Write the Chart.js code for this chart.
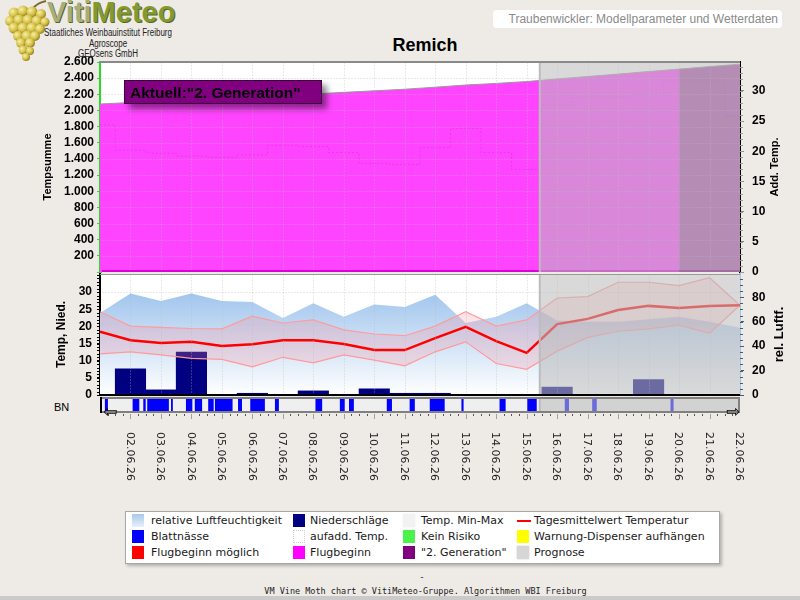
<!DOCTYPE html>
<html>
<head>
<meta charset="utf-8">
<title>Remich</title>
<script src="https://cdn.jsdelivr.net/npm/chart.js@4.4.1/dist/chart.umd.min.js"></script>
<style>
  body { margin:0; width:800px; height:600px; background:#eeebe7; position:relative; overflow:hidden; font-family:"Liberation Sans", Arial, sans-serif; }
  canvas { position:absolute; left:0; }
  .abs { position:absolute; white-space:nowrap; }
  #legend { position:absolute; left:125px; top:511px; width:593px; height:51px; background:#fff; border:1px solid #a8a8a8; box-shadow:2px 2px 3px rgba(0,0,0,.25); font:11px "DejaVu Sans", sans-serif; color:#1a1a1a; }
  #legend .it { position:absolute; line-height:13px; white-space:nowrap; }
  #legend .sw { position:absolute; width:12px; height:13px; }
</style>
</head>
<body>

<svg class="abs" style="left:2px;top:0" width="52" height="66">
  <defs>
    <radialGradient id="berry" cx="35%" cy="35%" r="70%">
      <stop offset="0" stop-color="#f7f0a0"/>
      <stop offset="0.6" stop-color="#d4bf48"/>
      <stop offset="1" stop-color="#8f7a1c"/>
    </radialGradient>
  </defs>
  <path d="M30 10 Q34 3 44 1" stroke="#7a6a30" stroke-width="2" fill="none"/>
  <g fill="url(#berry)">
    <circle cx="12" cy="13" r="5.5"/><circle cx="21" cy="11" r="5.5"/><circle cx="30" cy="12" r="5.5"/><circle cx="39" cy="14" r="5"/>
    <circle cx="8" cy="21" r="5"/><circle cx="17" cy="20" r="5.5"/><circle cx="26" cy="20" r="5.5"/><circle cx="35" cy="21" r="5.5"/><circle cx="43" cy="22" r="4.5"/>
    <circle cx="12" cy="28" r="5.5"/><circle cx="21" cy="28" r="5.5"/><circle cx="30" cy="28" r="5.5"/><circle cx="38" cy="29" r="5"/>
    <circle cx="16" cy="36" r="5"/><circle cx="25" cy="36" r="5.5"/><circle cx="33" cy="36" r="5"/>
    <circle cx="19" cy="43" r="5"/><circle cx="28" cy="43" r="5"/>
    <circle cx="21" cy="50" r="4.5"/><circle cx="28" cy="51" r="4"/>
    <circle cx="24" cy="57" r="4"/>
  </g>
</svg>
<div class="abs" style="left:47px;top:-2px;font:bold 29px/29px 'Liberation Sans',Arial;text-shadow:1px 1px 0 #59661f">
  <span style="color:#a7ae7c">Viti</span><span style="color:#84992f">Meteo</span>
</div>
<div class="abs" style="left:18px;top:28px;width:180px;text-align:center;font:10px/10.5px 'Liberation Sans',Arial;color:#222;transform:scaleX(0.8)">
  Staatliches Weinbauinstitut Freiburg<br>Agroscope<br>GEOsens GmbH
</div>
<div class="abs" style="left:493px;top:10px;width:285px;height:18px;padding-right:4px;background:#fff;border-radius:4px;text-align:right;font:12px/18px 'Liberation Sans',Arial;color:#8a8a8a">Traubenwickler: Modellparameter und Wetterdaten</div>
<div class="abs" style="left:325px;top:36px;width:200px;text-align:center;font:bold 18px/18px 'Liberation Sans',Arial;color:#000">Remich</div>
<div class="abs" style="left:54px;top:401px;font:11px/12px 'Liberation Sans',Arial;color:#000">BN</div>

<canvas id="cTop" width="800" height="242" style="top:46px"></canvas>
<canvas id="cMid" width="800" height="153" style="top:258px"></canvas>
<canvas id="cBn" width="800" height="103" style="top:397px"></canvas>

<div id="legend">
  <span class="sw" style="left:6px;top:2px;background:linear-gradient(#a8c8ee,#e8f0fa)"></span><span class="it" style="left:25px;top:2px">relative Luftfeuchtigkeit</span>
  <span class="sw" style="left:167px;top:2px;background:#000080"></span><span class="it" style="left:184px;top:2px">Niederschläge</span>
  <span class="sw" style="left:277px;top:2px;background:#f2f2f2;box-shadow:0 0 1px #ddd"></span><span class="it" style="left:295px;top:2px">Temp. Min-Max</span>
  <span class="sw" style="left:391px;top:8px;width:14px;height:2px;background:#ff0000"></span><span class="it" style="left:408px;top:2px">Tagesmittelwert Temperatur</span>

  <span class="sw" style="left:6px;top:18px;background:#0000ff"></span><span class="it" style="left:25px;top:18px">Blattnässe</span>
  <span class="sw" style="left:167px;top:18px;width:10px;height:11px;background:#fff;border:1px dotted #ccc"></span><span class="it" style="left:184px;top:18px">aufadd. Temp.</span>
  <span class="sw" style="left:277px;top:18px;background:#4cf24c"></span><span class="it" style="left:295px;top:18px">Kein Risiko</span>
  <span class="sw" style="left:391px;top:18px;background:#ffff00"></span><span class="it" style="left:408px;top:18px">Warnung-Dispenser aufhängen</span>

  <span class="sw" style="left:6px;top:34px;background:#ff0000"></span><span class="it" style="left:25px;top:34px">Flugbeginn möglich</span>
  <span class="sw" style="left:167px;top:34px;background:#ff00ff"></span><span class="it" style="left:184px;top:34px">Flugbeginn</span>
  <span class="sw" style="left:277px;top:34px;background:#800080"></span><span class="it" style="left:295px;top:34px">"2. Generation"</span>
  <span class="sw" style="left:391px;top:34px;background:#d6d6d6;box-shadow:0 0 2px #ccc"></span><span class="it" style="left:408px;top:34px">Prognose</span>
</div>

<div class="abs" style="left:0;top:572px;width:844px;text-align:center;font:9px/10px 'DejaVu Sans Mono',monospace;color:#222">-</div>
<div class="abs" style="left:0;top:586px;width:851px;text-align:center;font:8.5px/10px 'DejaVu Sans Mono',monospace;color:#222">VM Vine Moth chart © VitiMeteo-Gruppe. Algorithmen WBI Freiburg</div>
<div class="abs" style="left:0;top:596px;width:800px;height:4px;background:#cacaca"></div>

<script>
'use strict';

// --- data (day index 0 = 01.06.26) ---
const days = ['01.06.26','02.06.26','03.06.26','04.06.26','05.06.26','06.06.26','07.06.26','08.06.26',
  '09.06.26','10.06.26','11.06.26','12.06.26','13.06.26','14.06.26','15.06.26','16.06.26',
  '17.06.26','18.06.26','19.06.26','20.06.26','21.06.26','22.06.26'];
const tempSum  = [2080, 2098, 2115, 2132, 2148, 2165, 2185, 2205, 2224, 2243, 2263,
                  2288, 2315, 2335, 2358, 2390, 2420, 2450, 2482, 2512, 2543, 2573];
const addTemp  = [24.4, 20.2, 19.7, 19.2, 19.0, 19.4, 21.0, 20.8, 19.8, 18.0, 17.8,
                  20.6, 23.8, 19.8, 17.0, 27.7, 29.0, 29.0, 29.5, 31.8, 31.8, 25.9];
const humidity = [67, 83, 77, 83, 77, 76, 63, 75, 64, 74, 72, 82, 59, 64, 75, 61, 60, 60, 62, 64, 60, 55];
const tempMean = [18.5, 16.0, 15.2, 15.5, 14.3, 14.8, 16.0, 16.0, 14.9, 13.1, 13.1,
                  16.6, 19.9, 15.7, 12.3, 20.7, 22.2, 24.8, 26.0, 25.4, 26.0, 26.2];
const tempMax  = [24.3, 20.1, 19.7, 19.4, 19.3, 23.0, 21.0, 21.9, 19.0, 17.8, 17.3,
                  20.1, 24.3, 20.1, 21.9, 28.3, 28.7, 32.9, 32.9, 31.9, 34.2, 26.2];
const tempMin  = [12.0, 12.6, 11.7, 10.7, 10.4, 8.2, 11.0, 9.4, 11.7, 10.2, 8.5,
                  12.6, 15.5, 9.2, 7.5, 12.8, 16.8, 18.6, 19.3, 20.4, 18.0, 26.2];
const rain     = [0, 7.6, 1.5, 12.5, 0, 0.5, 0, 1.2, 0, 1.8, 0.5, 0.5, 0, 0, 0, 2.3, 0, 0, 4.5, 0, 0, 0];
// leaf wetness periods (start / end, in days)
const wetStart = [0.16, 1.07, 1.42, 1.55, 2.33, 2.82, 3.11, 3.55, 3.77, 4.53, 4.93, 5.74,
                  7.07, 7.87, 8.17, 9.41, 10.16, 10.82, 11.86, 13.11, 14.02, 15.25, 16.15, 18.72];
const wetEnd   = [0.26, 1.29, 1.50, 2.26, 2.39, 3.03, 3.35, 3.73, 4.35, 4.66, 5.41, 5.87,
                  7.29, 8.03, 8.33, 9.58, 10.33, 11.31, 11.93, 13.31, 14.33, 15.39, 16.30, 18.82];
const forecastFrom = 14.43;  // start of "Prognose"
const gen2From = 19;         // start of "2. Generation"

Chart.defaults.font.family = '"Liberation Sans", Arial, sans-serif';
Chart.defaults.color = '#000';

const pts = arr => arr.map((v, i) => ({ x: i, y: v }));
const gridColor = 'rgba(185,185,185,0.6)';
const thousands = v => String(v).replace(/\B(?=(\d{3})+(?!\d))/g, '.');

function dotted(ctx, x1, y1, x2, y2) {
  ctx.save();
  ctx.strokeStyle = gridColor;
  ctx.lineWidth = 1;
  ctx.setLineDash([1, 2]);
  ctx.beginPath();
  ctx.moveTo(Math.round(x1) + 0.5, Math.round(y1) + 0.5);
  ctx.lineTo(Math.round(x2) + 0.5, Math.round(y2) + 0.5);
  ctx.stroke();
  ctx.restore();
}

function vText(ctx, text, x, y, font) {
  ctx.save();
  ctx.translate(x, y);
  ctx.rotate(-Math.PI / 2);
  ctx.font = font;
  ctx.fillStyle = '#000';
  ctx.textAlign = 'center';
  ctx.textBaseline = 'middle';
  ctx.fillText(text, 0, 0);
  ctx.restore();
}

function minorTicks(ctx, scale, step, len, color, side) {
  const x0 = side === 'left' ? scale.right : scale.left;
  ctx.save();
  ctx.strokeStyle = color;
  ctx.lineWidth = 1;
  ctx.beginPath();
  for (let v = 0; v <= scale.max + 1e-6; v += step) {
    const y = Math.round(scale.getPixelForValue(v)) + 0.5;
    ctx.moveTo(side === 'left' ? x0 - len : x0, y);
    ctx.lineTo(side === 'left' ? x0 : x0 + len, y);
  }
  ctx.stroke();
  ctx.restore();
}

function shadeForecast(chart) {
  const { ctx, chartArea: a, scales: { x } } = chart;
  const px = x.getPixelForValue(forecastFrom);
  ctx.save();
  ctx.fillStyle = 'rgba(188,188,188,0.57)';
  ctx.fillRect(px, a.top, a.right - px, a.bottom - a.top);
  ctx.fillStyle = '#bcbcbc';
  ctx.fillRect(px - 1, a.top, 2, a.bottom - a.top);
  ctx.restore();
}

function areaBg(color) {
  return {
    id: 'areaBg',
    beforeDatasetsDraw(chart) {
      const { ctx, chartArea: a } = chart;
      ctx.save();
      ctx.fillStyle = color;
      ctx.fillRect(a.left + 1, a.top, a.right - a.left - 1, a.bottom - a.top);
      ctx.restore();
    },
  };
}

const baseOpts = (padding) => ({
  responsive: false,
  animation: false,
  layout: { padding },
  plugins: { legend: { display: false }, tooltip: { enabled: false } },
});

const xDays = { type: 'linear', min: 0, max: days.length - 1, display: false };
const tickFont = { size: 12, weight: 'bold' };

// ---------- top panel: Tempsumme ----------
const topPanel = {
  id: 'topPanel',
  afterDatasetsDraw(chart) {
    const { ctx, chartArea: a, scales: { x, yL } } = chart;
    for (let i = 1; i < days.length - 1; i++) {
      const px = x.getPixelForValue(i);
      dotted(ctx, px, a.top, px, a.bottom);
    }
    for (let v = 200; v < 2600; v += 200) {
      const py = yL.getPixelForValue(v);
      dotted(ctx, a.left + 2, py, a.right, py);
    }
    const g = x.getPixelForValue(gen2From);
    ctx.fillStyle = '#dd00dd';
    ctx.fillRect(a.left + 2, a.bottom - 2, g - a.left - 2, 2);
    ctx.fillStyle = '#800080';
    ctx.fillRect(g, a.bottom - 2, a.right - g, 2);
    shadeForecast(chart);
    ctx.fillStyle = '#8a8a8a';
    ctx.fillRect(a.left, a.top - 1, a.right - a.left, 2);

    // "Aktuell" box
    const bx = a.left + 24, by = a.top + 18, bw = 198, bh = 24;
    ctx.save();
    ctx.shadowColor = 'rgba(0,0,0,0.45)';
    ctx.shadowBlur = 6;
    ctx.shadowOffsetX = 5;
    ctx.shadowOffsetY = 5;
    ctx.fillStyle = '#800080';
    ctx.fillRect(bx, by, bw, bh);
    ctx.restore();
    ctx.strokeStyle = '#3c003c';
    ctx.lineWidth = 1;
    ctx.strokeRect(bx + 0.5, by + 0.5, bw - 1, bh - 1);
    ctx.font = 'bold 15.5px "Liberation Sans", Arial';
    ctx.fillStyle = '#000';
    ctx.textBaseline = 'alphabetic';
    ctx.fillText('Aktuell:"2. Generation"', bx + 6, by + 18);
  },
  afterDraw(chart) {
    const { ctx, chartArea: a, scales: { yR } } = chart;
    minorTicks(ctx, yR, 1, 3, '#999', 'right');
    const cy = (a.top + a.bottom) / 2;
    vText(ctx, 'Tempsumme', 48, cy, 'bold 11px "Liberation Sans", Arial');
    vText(ctx, 'Add. Temp.', 775, cy, 'bold 11px "Liberation Sans", Arial');
  },
};

new Chart(document.getElementById('cTop'), {
  type: 'line',
  data: {
    datasets: [
      { data: pts(addTemp), yAxisID: 'yR', stepped: 'middle', borderColor: 'rgba(150,20,150,0.2)',
        borderWidth: 1, borderDash: [2, 2], pointRadius: 0, fill: false },
      { data: pts(tempSum).filter(p => p.x <= gen2From), yAxisID: 'yL', borderColor: '#9a9a9a', borderWidth: 1,
        backgroundColor: '#ff44ff', fill: 'origin', pointRadius: 0 },
      { data: pts(tempSum).filter(p => p.x >= gen2From), yAxisID: 'yL', borderColor: '#9a9a9a', borderWidth: 1,
        backgroundColor: '#aa4daa', fill: 'origin', pointRadius: 0 },
    ],
  },
  options: {
    ...baseOpts({ top: 16, bottom: 16, left: 0, right: 0 }),
    scales: {
      x: xDays,
      yL: {
        position: 'left', min: 0, max: 2600,
        ticks: { stepSize: 200, padding: 3, autoSkip: false, font: tickFont, callback: v => (v ? thousands(v) : '') },
        grid: { drawOnChartArea: false, tickLength: 3, tickColor: '#999' },
        border: { color: '#22dd22', width: 3 },
        afterFit: s => { s.width = 100; },
      },
      yR: {
        position: 'right', min: 0, max: 34.8,
        ticks: { stepSize: 5, padding: 8, autoSkip: false, font: tickFont },
        afterBuildTicks: s => { s.ticks = s.ticks.filter(t => t.value <= 30); },
        grid: { drawOnChartArea: false, tickLength: 4, tickColor: '#888' },
        border: { color: '#000', width: 2 },
        afterFit: s => { s.width = 60; },
      },
    },
  },
  plugins: [areaBg('#ffffff'), topPanel],
});

// ---------- middle panel: temperature, rain, humidity ----------
const midPanel = {
  id: 'midPanel',
  afterDatasetsDraw(chart) {
    const { ctx, chartArea: a, scales: { x, yL } } = chart;
    for (let i = 1; i < days.length - 1; i++) {
      const px = x.getPixelForValue(i);
      dotted(ctx, px, a.top, px, a.bottom);
    }
    const p30 = yL.getPixelForValue(30);
    dotted(ctx, a.left + 2, p30, a.right, p30);
    shadeForecast(chart);
    ctx.fillStyle = '#000';
    ctx.fillRect(a.left, a.bottom - 1, a.right - a.left, 2);
    ctx.fillStyle = '#9a9a9a';
    ctx.fillRect(a.left, a.top, a.right - a.left, 1);
  },
  afterDraw(chart) {
    const { ctx, chartArea: a, scales: { yL, yR } } = chart;
    minorTicks(ctx, yL, 1, 3, '#000', 'left');
    minorTicks(ctx, yR, 5, 3, '#556', 'right');
    const cy = (a.top + a.bottom) / 2;
    vText(ctx, 'Temp, Nied.', 62, cy, 'bold 12px "Liberation Sans", Arial');
    vText(ctx, 'rel. Luftf.', 779, cy, 'bold 13px "Liberation Sans", Arial');
  },
};

const humidityFill = (c) => {
  const a = c.chart.chartArea;
  if (!a) return '#b8d4f2';
  const g = c.chart.ctx.createLinearGradient(0, a.top, 0, a.bottom);
  g.addColorStop(0, '#90bbea');
  g.addColorStop(1, '#ffffff');
  return g;
};

new Chart(document.getElementById('cMid'), {
  type: 'line',
  data: {
    datasets: [
      { data: pts(tempMean), yAxisID: 'yL', borderColor: '#ff0000', borderWidth: 2.5, pointRadius: 0, fill: false },
      { data: pts(tempMax), yAxisID: 'yL', borderColor: '#ff9c9c', borderWidth: 1.2, pointRadius: 0,
        fill: '+1', backgroundColor: 'rgba(255,140,150,0.24)' },
      { data: pts(tempMin), yAxisID: 'yL', borderColor: '#ff9c9c', borderWidth: 1.2, pointRadius: 0, fill: false },
      { type: 'bar', data: pts(rain), yAxisID: 'yL', backgroundColor: '#000080',
        barPercentage: 1, categoryPercentage: 1, borderWidth: 0 },
      { data: pts(humidity), yAxisID: 'yR', borderColor: 'transparent', borderWidth: 0, pointRadius: 0,
        fill: 'origin', backgroundColor: humidityFill },
    ],
  },
  options: {
    ...baseOpts({ top: 16, bottom: 16, left: 0, right: 0 }),
    scales: {
      x: { ...xDays, offset: false },
      yL: {
        position: 'left', min: 0, max: 35.3,
        ticks: { stepSize: 5, padding: 5, autoSkip: false, font: tickFont },
        afterBuildTicks: s => { s.ticks = s.ticks.filter(t => t.value <= 30); },
        grid: { drawOnChartArea: false, tickLength: 3, tickColor: '#000' },
        border: { color: '#000', width: 2 },
        afterFit: s => { s.width = 100; },
      },
      yR: {
        position: 'right', min: 0, max: 99,
        ticks: { stepSize: 20, padding: 8, autoSkip: false, font: tickFont },
        afterBuildTicks: s => { s.ticks = s.ticks.filter(t => t.value <= 80); },
        grid: { drawOnChartArea: false, tickLength: 4, tickColor: '#556' },
        border: { color: '#9ec4f0', width: 2 },
        afterFit: s => { s.width = 60; },
      },
    },
  },
  plugins: [areaBg('#ffffff'), midPanel],
});

// ---------- BN strip (Blattnässe) with date axis ----------
const bnPanel = {
  id: 'bnPanel',
  afterDatasetsDraw(chart) {
    const { ctx, chartArea: a, scales: { x } } = chart;
    shadeForecast(chart);
    ctx.save();
    ctx.strokeStyle = '#808080';
    ctx.lineWidth = 2;
    ctx.strokeRect(a.left + 1, a.top + 1, a.right - a.left - 2, a.bottom - a.top - 2);
    ctx.fillStyle = '#000';
    ctx.fillRect(a.left, a.top, 2, a.bottom - a.top);

    // ticks below the strip
    ctx.lineWidth = 1;
    for (let q = 1; q < (days.length - 1) * 4; q++) {
      const px = Math.round(x.getPixelForValue(q / 4)) + 0.5;
      ctx.strokeStyle = q % 4 === 0 ? '#a0a0a0' : '#555';
      ctx.beginPath();
      ctx.moveTo(px, a.bottom + 1);
      ctx.lineTo(px, a.bottom + (q % 4 === 0 ? 6 : 3));
      ctx.stroke();
    }

    // scroll arrows
    ctx.font = '17px "DejaVu Sans"';
    ctx.textAlign = 'center';
    ctx.textBaseline = 'middle';
    ctx.fillText('⇦', a.left + 10, a.bottom);
    ctx.fillText('⇨', a.right - 7, a.bottom);

    // date labels, rotated clockwise
    ctx.font = '11px "DejaVu Sans"';
    ctx.fillStyle = '#222';
    ctx.textAlign = 'left';
    days.forEach((d, i) => {
      if (i === 0) return;
      ctx.save();
      ctx.translate(x.getPixelForValue(i) - 1, a.bottom + 19);
      ctx.rotate(Math.PI / 2);
      ctx.fillText(d, 0, 0);
      ctx.restore();
    });
    ctx.restore();
  },
};

new Chart(document.getElementById('cBn'), {
  type: 'bar',
  data: {
    labels: ['BN'],
    datasets: [{
      data: wetStart.map((s, i) => ({ x: [s, wetEnd[i]], y: 'BN' })),
      backgroundColor: '#0000ff',
      barPercentage: 0.8,
      categoryPercentage: 1,
      borderWidth: 0,
    }],
  },
  options: {
    ...baseOpts({ top: 0, bottom: 87, left: 100, right: 60 }),
    indexAxis: 'y',
    scales: {
      x: xDays,
      y: { display: false },
    },
  },
  plugins: [areaBg('#efefef'), bnPanel],
});
</script>
</body>
</html>
